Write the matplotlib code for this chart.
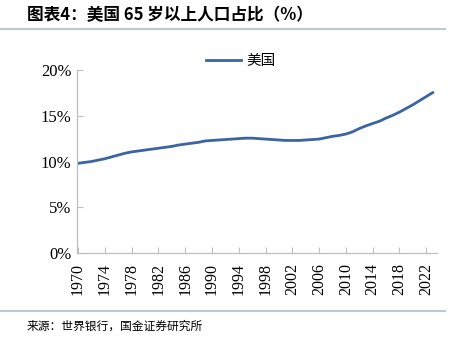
import numpy as np
import matplotlib
matplotlib.use("Agg")
import matplotlib.pyplot as plt
from matplotlib.lines import Line2D

# US share of population aged 65+ (%), World Bank
years = list(range(1970, 2024))
share_us = [9.8, 9.9, 10.0, 10.15, 10.3, 10.5, 10.7, 10.9, 11.05, 11.15,
            11.25, 11.35, 11.45, 11.55, 11.65, 11.8, 11.9, 12.0, 12.1, 12.25,
            12.3, 12.35, 12.4, 12.45, 12.5, 12.55, 12.55, 12.5, 12.45, 12.4,
            12.35, 12.3, 12.3, 12.3, 12.35, 12.4, 12.45, 12.6, 12.75, 12.85,
            13.0, 13.25, 13.6, 13.9, 14.15, 14.4, 14.75, 15.05, 15.4, 15.8,
            16.2, 16.65, 17.1, 17.55]
xticks = list(range(1970, 2023, 4))
yticks = [0, 5, 10, 15, 20]

CJK = ["Noto Sans CJK SC", "DejaVu Sans"]
SERIF = ["Liberation Serif", "DejaVu Serif"]
BLUE = "#3a64a3"
RULE = "#b9c9d9"
GRID = "#bfbfbf"

W, H = 459, 337
fig = plt.figure(figsize=(W / 100, H / 100), dpi=100)
ax = fig.add_axes([77 / W, 1 - 253 / H, (437 - 77) / W, (253 - 70) / H])

ax.plot(years, share_us, color=BLUE, lw=2.0, solid_capstyle="round")
ax.set_xlim(1969.85, 2023.6)
ax.set_ylim(0, 20)

ax.set_xticks(xticks)
ax.set_xticklabels([str(y) for y in xticks], rotation=90, family=SERIF, fontsize=11.5)
ax.set_yticks(yticks)
ax.set_yticklabels([f"{v}%" for v in yticks], family=SERIF, fontsize=12)
ax.tick_params(axis="both", direction="in", length=4, width=0.8, color=GRID, pad=4)
ax.tick_params(axis="x", pad=7)

for s in ["top", "right"]:
    ax.spines[s].set_visible(False)
for s in ["left", "bottom"]:
    ax.spines[s].set_color(GRID)
    ax.spines[s].set_linewidth(0.9)

handle = Line2D([], [], color=BLUE, lw=2.0)
leg = fig.legend([handle], ["美国"], loc="center", bbox_to_anchor=(241 / W, 1 - 61 / H),
                 frameon=False, handlelength=2.4, handletextpad=0.4,
                 prop={"family": CJK, "size": 10.5})

fig.text(27 / W, 1 - 15 / H, "图表4：美国 65 岁以上人口占比（%）", family=CJK,
         fontsize=12, fontweight="bold", fontstyle="italic", va="center", ha="left")
fig.add_artist(Line2D([0, 445 / W], [1 - 29 / H] * 2, color=RULE, lw=1.5))
fig.add_artist(Line2D([0, 445 / W], [1 - 311 / H] * 2, color=RULE, lw=1.5))
fig.text(27 / W, 1 - 326 / H, "来源：世界银行，国金证券研究所", family=CJK,
         fontsize=8.5, va="center", ha="left")

fig.savefig("out.png", dpi=100)
